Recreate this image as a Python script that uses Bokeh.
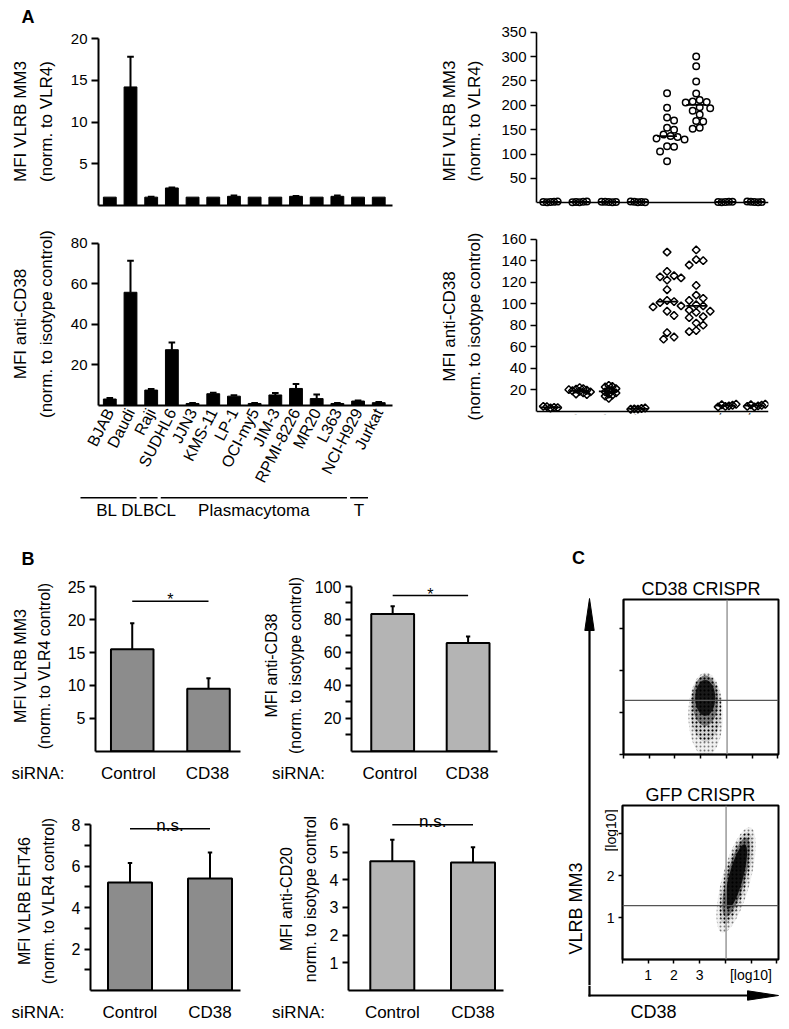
import math
import numpy as np
from bokeh.plotting import figure
from bokeh.layouts import row, column
from bokeh.models import Range1d, FixedTicker, Spacer, Span
from bokeh.core.properties import value
from bokeh.embed import file_html
from bokeh.resources import INLINE

FONT = "Liberation Sans"

# ---------------- data: panel A (cell lines) ----------------
cell_lines = ["BJAB", "Daudi", "Raji", "SUDHL6", "JJN3", "KMS-11", "LP-1", "OCI-my5",
              "JIM-3", "RPMI-8226", "MR20", "L363", "NCI-H929", "Jurkat"]
vlrb_mean = [1.0, 14.2, 1.0, 2.1, 1.0, 1.0, 1.1, 1.0, 1.0, 1.1, 1.0, 1.1, 1.0, 1.0]
vlrb_err = [0.0, 3.6, 0.05, 0.05, 0.0, 0.0, 0.1, 0.0, 0.0, 0.05, 0.0, 0.1, 0.0, 0.0]
cd38_mean = [3.2, 55.8, 7.6, 27.5, 1.0, 5.8, 4.6, 1.0, 5.2, 8.4, 3.4, 1.0, 2.2, 1.4]
cd38_err = [0.5, 15.5, 0.5, 3.6, 0.2, 0.5, 0.5, 0.2, 1.0, 2.2, 2.0, 0.2, 0.3, 0.3]
group_names = ["BL", "DLBCL", "Plasmacytoma", "T"]
group_first = [0, 3, 4, 13]
group_last = [2, 3, 12, 13]

# ---------------- data: panel A (tonsil subsets) ----------------
subsets = ["Naive", "Pre GC", "GC", "Memory", "Plasma Cells IgD -",
           "Plasma Cells IgD+", "T", "Non-B/T"]
mm3_naive = [1.5, 2.0, 1.0, 2.5, 1.8]
mm3_pregc = [1.2, 2.2, 1.6, 2.8, 1.0]
mm3_gc = [1.8, 1.2, 2.4, 1.5, 2.0]
mm3_memory = [1.0, 1.6, 2.2, 1.3, 2.6]
mm3_igd_neg = [225, 195, 175, 169, 154, 150, 140, 137, 135, 132, 130, 116, 115, 105, 85]
mm3_igd_pos = [300, 280, 249, 224, 211, 208, 207, 206, 196, 194, 189, 181, 168, 167, 154, 152]
mm3_t = [1.4, 2.0, 1.1, 2.3, 1.7]
mm3_nonbt = [1.6, 1.2, 2.1, 1.4, 2.5]

cd38_naive = [3.0, 3.6, 4.2, 3.3, 4.5]
cd38_pregc = [22.0, 21.0, 20.5, 19.5, 19.0, 18.5, 18.0, 17.0, 16.0, 15.5, 20.0]
cd38_gc = [24.0, 23.0, 22.5, 21.0, 20.0, 19.0, 18.0, 17.0, 16.0, 15.0, 14.0, 12.0]
cd38_memory = [2.0, 2.5, 2.2, 3.0, 1.8]
cd38_t = [4.5, 5.0, 6.0, 5.5, 4.0, 6.5]
cd38_nonbt = [4.0, 5.0, 6.0, 5.5, 4.5, 6.5]
cd38_igd_neg = [148, 130, 126, 125, 124, 122, 113, 103, 102, 101, 98, 97, 93, 89, 73, 69, 67]
cd38_igd_pos = [150, 141, 140, 136, 117, 108, 105, 103, 99, 98, 94, 93, 92, 88, 87, 82, 80, 75, 74]

# ---------------- data: panel B (siRNA) ----------------
conditions = ["Control", "CD38"]
b_mm3 = [15.5, 9.5]
b_mm3_err = [3.95, 1.6]
b_cd38 = [83.3, 65.7]
b_cd38_err = [4.7, 4.0]
b_eht46 = [5.2, 5.4]
b_eht46_err = [0.95, 1.25]
b_cd20 = [4.67, 4.63]
b_cd20_err = [0.78, 0.55]

# ---------------- data: panel C (flow populations, log10 decades) ----------------
# layers from sparse outer events to dense core
cd38ko_x = [3.2, 3.2, 3.18, 3.18]
cd38ko_y = [0.95, 1.1, 1.28, 1.35]
cd38ko_w = [1.35, 1.2, 1.0, 0.78]
cd38ko_h = [2.0, 1.6, 1.2, 0.85]
cd38ko_a = [0.1, 0.2, 0.4, 0.8]
gfp_x = [4.42, 4.42, 4.42, 4.42]
gfp_y = [1.9, 1.95, 1.97, 1.98]
gfp_w = [1.1, 0.9, 0.72, 0.55]
gfp_h = [2.6, 2.25, 1.95, 1.6]
gfp_a = [0.1, 0.22, 0.45, 0.85]
gfp_angle = -0.26
gate_x = 4.03
gate_y = 1.29


class Geo:
    def __init__(self, box, frame, xpx0, xs, ypx0, ys):
        self.box, self.frame = box, frame
        self.xpx0, self.xs, self.ypx0, self.ys = xpx0, xs, ypx0, ys

    def x(self, px):
        return (px - self.xpx0) / self.xs

    def y(self, py):
        return (self.ypx0 - py) / self.ys


def mkfig(g, title=None):
    bl, bt, br, bb = g.box
    fl, ft, fr, fb = g.frame
    p = figure(width=br - bl, height=bb - bt, title=title,
               x_range=Range1d(g.x(fl), g.x(fr)), y_range=Range1d(g.y(fb), g.y(ft)),
               min_border_left=fl - bl, min_border_right=br - fr,
               min_border_top=ft - bt, min_border_bottom=bb - fb,
               frame_align=False,
               output_backend="svg", toolbar_location=None, tools="")
    p.xgrid.visible = False
    p.ygrid.visible = False
    p.outline_line_color = None
    return p


def canvas(box):
    # plain drawing area whose data units are page pixels (y pointing down)
    return mkfig(Geo(box, box, 0, 1, 0, -1))


def hide_axes(p):
    p.xaxis.visible = False
    p.yaxis.visible = False


def axis_style(ax, size, lw, tick_out, standoff=4):
    ax.axis_line_color = "black"
    ax.axis_line_width = lw
    ax.major_tick_line_color = "black"
    ax.major_tick_line_width = lw
    ax.minor_tick_line_color = "black"
    ax.minor_tick_line_width = lw
    ax.major_tick_in = 0
    ax.major_tick_out = tick_out
    ax.minor_tick_in = 0
    ax.minor_tick_out = 0
    ax.major_label_text_font = FONT
    ax.major_label_text_font_size = size
    ax.major_label_text_color = "black"
    ax.major_label_standoff = standoff
    ax.axis_label_text_font = FONT
    ax.axis_label_text_font_style = "normal"
    ax.axis_label_text_color = "black"


def no_labels(ax, minor=None, out=0):
    # ticks (if any) drawn as unlabeled minor ticks
    ax.ticker = FixedTicker(ticks=[], minor_ticks=minor or [])
    ax.major_label_standoff = 0
    ax.major_tick_out = 0
    ax.minor_tick_out = out


def bar_errors(p, xs, tops, errs, cap_half, lw):
    x0, y0, y1, c0, c1 = [], [], [], [], []
    for x, t, e in zip(xs, tops, errs):
        if e <= 0:
            continue
        x0.append(x); y0.append(t); y1.append(t + e)
        c0.append(x - cap_half); c1.append(x + cap_half)
    p.segment(x0=x0, y0=y0, x1=x0, y1=y1, line_color="black", line_width=lw)
    p.segment(x0=c0, y0=y1, x1=c1, y1=y1, line_color="black", line_width=lw)


def swarm(vals, ypx, xpx, d, step):
    placed, offs = [], []
    for v in vals:
        py = v * ypx
        k = 0
        while True:
            m = (k + 1) // 2
            cand = m * step * (1 if k % 2 == 1 else -1)
            if all((cand - qx) ** 2 + (py - qy) ** 2 >= d * d for qx, qy in placed):
                break
            k += 1
        placed.append((cand, py))
        offs.append(cand / xpx)
    return offs


def txt(p, x, y, s, size, align="center", baseline="middle", angle=0.0, style="normal"):
    p.text(x=[x], y=[y], text=[s], angle=angle, text_font=value(FONT),
           text_font_size=value(size), text_align=align, text_baseline=baseline,
           text_color="black", text_font_style=style)


def ylabel(ax, text, size, standoff, lh=1.35):
    ax.axis_label = text
    ax.axis_label_text_font_size = size
    ax.axis_label_standoff = standoff
    ax.axis_label_text_line_height = lh


idx = list(range(len(cell_lines)))

# ---------------- letter A ----------------
pA = canvas((8, 8, 400, 30))
hide_axes(pA)
txt(pA, 27.5, 16.5, "A", "18px", style="bold")

# ---------------- A1 ----------------
ga1 = Geo((8, 30, 400, 220), (93, 37, 392, 205), 104.5, 21.04, 205, 8.35)
pa1 = mkfig(ga1)
pa1.vbar(x=idx, top=vlrb_mean, bottom=0, width=0.62, fill_color="black", line_color="black")
bar_errors(pa1, idx, vlrb_mean, vlrb_err, 0.16, 2)
ax = pa1.yaxis[0]
axis_style(ax, "15px", 2, 7)
ax.ticker = FixedTicker(ticks=[5, 10, 15, 20])
ax.bounds = (0, 20)
ylabel(ax, "MFI VLRB MM3\n(norm. to VLR4)", "17px", 12)
ax = pa1.xaxis[0]
axis_style(ax, "15px", 2, 0)
no_labels(ax)

# ---------------- A2 ----------------
ga2 = Geo((8, 220, 400, 492), (93, 242, 392, 409), 104.5, 21.04, 409, 2.079)
pa2 = mkfig(ga2)
pa2.vbar(x=idx, top=cd38_mean, bottom=0, width=0.62, fill_color="black", line_color="black")
bar_errors(pa2, idx, cd38_mean, cd38_err, 0.16, 2)
ax = pa2.yaxis[0]
axis_style(ax, "15px", 2, 7)
ax.ticker = FixedTicker(ticks=[20, 40, 60, 80])
ax.bounds = (0, 80)
ylabel(ax, "MFI anti-CD38\n(norm. to isotype control)", "17px", 12)
ax = pa2.xaxis[0]
axis_style(ax, "16px", 2, 0, 4)
ax.ticker = FixedTicker(ticks=idx)
ax.major_label_overrides = {i: n for i, n in enumerate(cell_lines)}
ax.major_label_orientation = math.radians(63)

# ---------------- A2 group lines ----------------
gag = Geo((8, 492, 400, 522), (80, 492, 392, 522), 104.5, 21.04, 522, 30)
pag = mkfig(gag)
hide_axes(pag)
gx0 = [a - 1.35 for a in group_first]
gx1 = [b - 0.5 for b in group_last]
pag.segment(x0=gx0, y0=[gag.y(497.3)] * 4, x1=gx1, y1=[gag.y(497.3)] * 4,
            line_color="black", line_width=1.5)
for n, a, b in zip(group_names, gx0, gx1):
    txt(pag, (a + b) / 2, gag.y(510), n, "17px")


def dotplot(g, groups, label, ticks, ybound, marker):
    p = mkfig(g)
    for i, vals in enumerate(groups):
        d = 7.0 if max(vals) > 30 else 3.6
        offs = swarm(vals, g.ys, g.xs, d, d / 2)
        xs = [i + o for o in offs]
        if marker == "circle":
            p.scatter(x=xs, y=vals, marker="circle", size=6.5, fill_alpha=0,
                      line_color="black", line_width=1.5)
        else:
            p.scatter(x=xs, y=vals, marker="square", angle=math.pi / 4, size=5.5,
                      fill_alpha=0, line_color="black", line_width=1.5)
        med = float(np.median(vals))
        p.segment(x0=[i - 0.34], y0=[med], x1=[i + 0.34], y1=[med],
                  line_color="black", line_width=1.8)
    ax = p.yaxis[0]
    axis_style(ax, "15px", 1.6, 6)
    ax.ticker = FixedTicker(ticks=ticks)
    ax.bounds = (0, ybound)
    ylabel(ax, label, "17px", 14)
    ax = p.xaxis[0]
    axis_style(ax, "16px", 1.6, 0, 4)
    ax.fixed_location = 0
    return p


ga3 = Geo((400, 8, 781, 220), (536, 31, 768, 210), 550, 29.14, 202.3, 0.4874)
pa3 = dotplot(ga3, [mm3_naive, mm3_pregc, mm3_gc, mm3_memory, mm3_igd_neg, mm3_igd_pos, mm3_t, mm3_nonbt],
              "MFI VLRB MM3\n(norm. to VLR4)", [50, 100, 150, 200, 250, 300, 350], 350, "circle")
no_labels(pa3.xaxis[0])

ga4 = Geo((400, 220, 781, 548), (536, 238, 768, 414), 550, 29.14, 410.7, 1.075)
pa4 = dotplot(ga4, [cd38_naive, cd38_pregc, cd38_gc, cd38_memory, cd38_igd_neg, cd38_igd_pos, cd38_t, cd38_nonbt],
              "MFI anti-CD38\n(norm. to isotype control)", [20, 40, 60, 80, 100, 120, 140, 160], 160, "diamond")
ax = pa4.xaxis[0]
ax.ticker = FixedTicker(ticks=list(range(len(subsets))))
ax.major_label_overrides = {i: n for i, n in enumerate(subsets)}
ax.major_label_orientation = math.radians(62)


# ---------------- B ----------------
def bpanel(g, vals, errs, color, ticks, minor, label, sig, sig_px, standoff):
    p = mkfig(g)
    xs = [0, 1]
    p.vbar(x=xs, top=vals, bottom=0, width=44 / g.xs, fill_color=color,
           line_color="black", line_width=2)
    bar_errors(p, xs, vals, errs, 2.2 / g.xs, 2)
    ax = p.yaxis[0]
    axis_style(ax, "16px", 2, 6)
    ax.minor_tick_out = 6
    ax.ticker = FixedTicker(ticks=ticks, minor_ticks=minor)
    ax.bounds = (0, ticks[-1])
    ylabel(ax, label, "16px", standoff, 1.4)
    ax = p.xaxis[0]
    axis_style(ax, "16px", 2, 0, 0)
    no_labels(ax)
    p.segment(x0=[0], y0=[g.y(sig_px)], x1=[1], y1=[g.y(sig_px)], line_color="black", line_width=1.5)
    if sig == "*":
        txt(p, 0.5, g.y(sig_px - 1.5), "*", "16px", baseline="alphabetic")
    else:
        txt(p, 0.5, g.y(sig_px - 3.5), sig, "17px", baseline="alphabetic")
    return p


def bstrip(gmain, box, label_y, sirna_x):
    bl, bt, br, bb = box
    g = Geo(box, (bl, bt, br, bt + 1), gmain.xpx0, gmain.xs, 0, 1)
    p = mkfig(g)
    p.yaxis.visible = False
    ax = p.xaxis[0]
    axis_style(ax, "17px", 1, 0, max(0, int(round(label_y - (bt + 1) - 10))))
    ax.axis_line_color = None
    sx = round(g.x(sirna_x), 3)
    ax.ticker = FixedTicker(ticks=[sx, 0, 1])
    ax.major_label_overrides = {sx: "siRNA:", 0: conditions[0], 1: conditions[1]}
    return p


pB = canvas((8, 548, 510, 570))
hide_axes(pB)
txt(pB, 27.5, 558, "B", "18px", style="bold")

gb1 = Geo((8, 570, 260, 755), (90, 580, 240, 751), 128, 78.9, 750.7, 6.58)
pb1 = bpanel(gb1, b_mm3, b_mm3_err, "#8c8c8c", [5, 10, 15, 20, 25], [],
             "MFI VLRB MM3\n(norm. to VLR4 control)", "*", 600.7, 12)
sb1 = bstrip(gb1, (8, 755, 260, 790), 772.7, 37.5)
gb2 = Geo((260, 570, 510, 755), (347, 579, 497, 751), 389.3, 77.5, 750.7, 1.647)
pb2 = bpanel(gb2, b_cd38, b_cd38_err, "#b4b4b4", [20, 40, 60, 80, 100], [10, 30, 50, 70, 90],
             "MFI anti-CD38\n(norm. to isotype control)", "*", 595, 8)
sb2 = bstrip(gb2, (260, 755, 510, 790), 772.7, 298)
gb3 = Geo((8, 790, 260, 993), (90, 811, 240, 990), 129.5, 80, 990, 20.75)
pb3 = bpanel(gb3, b_eht46, b_eht46_err, "#8c8c8c", [2, 4, 6, 8], [1, 3, 5, 7],
             "MFI VLRB EHT46\n(norm. to VLR4 control)", "n.s.", 828.3, 12)
sb3 = bstrip(gb3, (8, 993, 260, 1021), 1013, 37.5)
gb4 = Geo((260, 790, 510, 993), (348, 807, 503, 990), 391.8, 80.7, 990, 27.67)
pb4 = bpanel(gb4, b_cd20, b_cd20_err, "#b4b4b4", [1, 2, 3, 4, 5, 6], [],
             "MFI anti-CD20\nnorm. to isotype control", "n.s.", 824.3, 8)
sb4 = bstrip(gb4, (260, 993, 510, 1021), 1013, 298)


# ---------------- C ----------------
def flowbox(g, title, xs, ys, ws, hs, alphas, angle, xlabels):
    p = mkfig(g, title=title)
    p.outline_line_color = "black"
    p.outline_line_width = 2
    p.title.align = "center"
    p.title.text_font = FONT
    p.title.text_font_size = "18px"
    p.title.text_font_style = "normal"
    p.title.text_color = "black"
    p.title.standoff = 2
    for k, (x, y, w, h, a) in enumerate(zip(xs, ys, ws, hs, alphas)):
        if k < 2:
            # sparse outer events: speckled texture
            p.ellipse(x=[x], y=[y], width=[w], height=[h], angle=angle,
                      fill_color="black", fill_alpha=a * 0.6, line_color=None,
                      hatch_pattern="dot", hatch_color="black", hatch_alpha=min(1.0, a * 5),
                      hatch_scale=4, hatch_weight=1)
        else:
            p.ellipse(x=[x], y=[y], width=[w], height=[h], angle=angle,
                      fill_color="black", fill_alpha=a, line_color=None)
    p.add_layout(Span(location=gate_x, dimension="height", line_color="#8a8a8a", line_width=1.3))
    p.add_layout(Span(location=gate_y, dimension="width", line_color="#555555", line_width=1.2))
    for ax in (p.xaxis[0], p.yaxis[0]):
        axis_style(ax, "14px", 1.5, 4, 3)
    no_labels(p.yaxis[0], [0, 1, 2, 3], 4)
    ax = p.xaxis[0]
    if xlabels:
        major = sorted(xlabels)
        ax.ticker = FixedTicker(ticks=major, minor_ticks=[i for i in range(7) if i not in xlabels])
        ax.minor_tick_out = 4
        ax.major_label_overrides = dict(xlabels)
    else:
        no_labels(ax, list(range(7)), 4)
    return p


gct = Geo((618, 548, 781, 760), (623, 599, 778, 754), 623, 25.7, 754, 42)
pct = flowbox(gct, "CD38 CRISPR", cd38ko_x, cd38ko_y, cd38ko_w, cd38ko_h, cd38ko_a, 0.0, {})
gcb = Geo((618, 760, 781, 985), (622, 805, 778, 959), 622, 25.7, 959.3, 42)
pcb = flowbox(gcb, "GFP CRISPR", gfp_x, gfp_y, gfp_w, gfp_h, gfp_a, gfp_angle,
              {1: "1", 2: "2", 3: "3", 5: "[log10]"})

# left strip of panel C: big y arrow, its title, letter C, and bottom-box y tick labels
pcy = canvas((510, 548, 618, 985))
hide_axes(pcy)
pcy.segment(x0=[589], y0=[985], x1=[589], y1=[626], line_color="black", line_width=2.2)
pcy.patch(x=[589, 584.3, 593.7], y=[598, 630, 630], color="black")
txt(pcy, 575, 908, "VLRB MM3", "18px", angle=math.pi / 2)
txt(pcy, 578, 557, "C", "18px", style="bold")
for v in (1, 2):
    txt(pcy, 614, gcb.ypx0 - v * gcb.ys, str(v), "14px", align="right")
txt(pcy, 610, 830, "[log10]", "14px", angle=math.pi / 2)

pcx = canvas((510, 985, 781, 1021))
hide_axes(pcx)
pcx.segment(x0=[589], y0=[985], x1=[589], y1=[996], line_color="black", line_width=2.2)
pcx.segment(x0=[588], y0=[995], x1=[750], y1=[995], line_color="black", line_width=2.2)
pcx.patch(x=[778, 747, 747], y=[995, 990.3, 999.7], color="black")
txt(pcx, 653, 1011, "CD38", "18px")

top = row(column(pA, pa1, pa2, pag, Spacer(width=392, height=26)), column(pa3, pa4))
bcol = column(pB, row(column(pb1, sb1), column(pb2, sb2)), row(column(pb3, sb3), column(pb4, sb4)))
ccol = column(row(pcy, column(pct, pcb)), pcx)
content = column(top, row(bcol, ccol))
layout = column(Spacer(width=781, height=8), row(Spacer(width=8, height=1013), content))

open("out.html", "w").write(file_html(layout, INLINE))
